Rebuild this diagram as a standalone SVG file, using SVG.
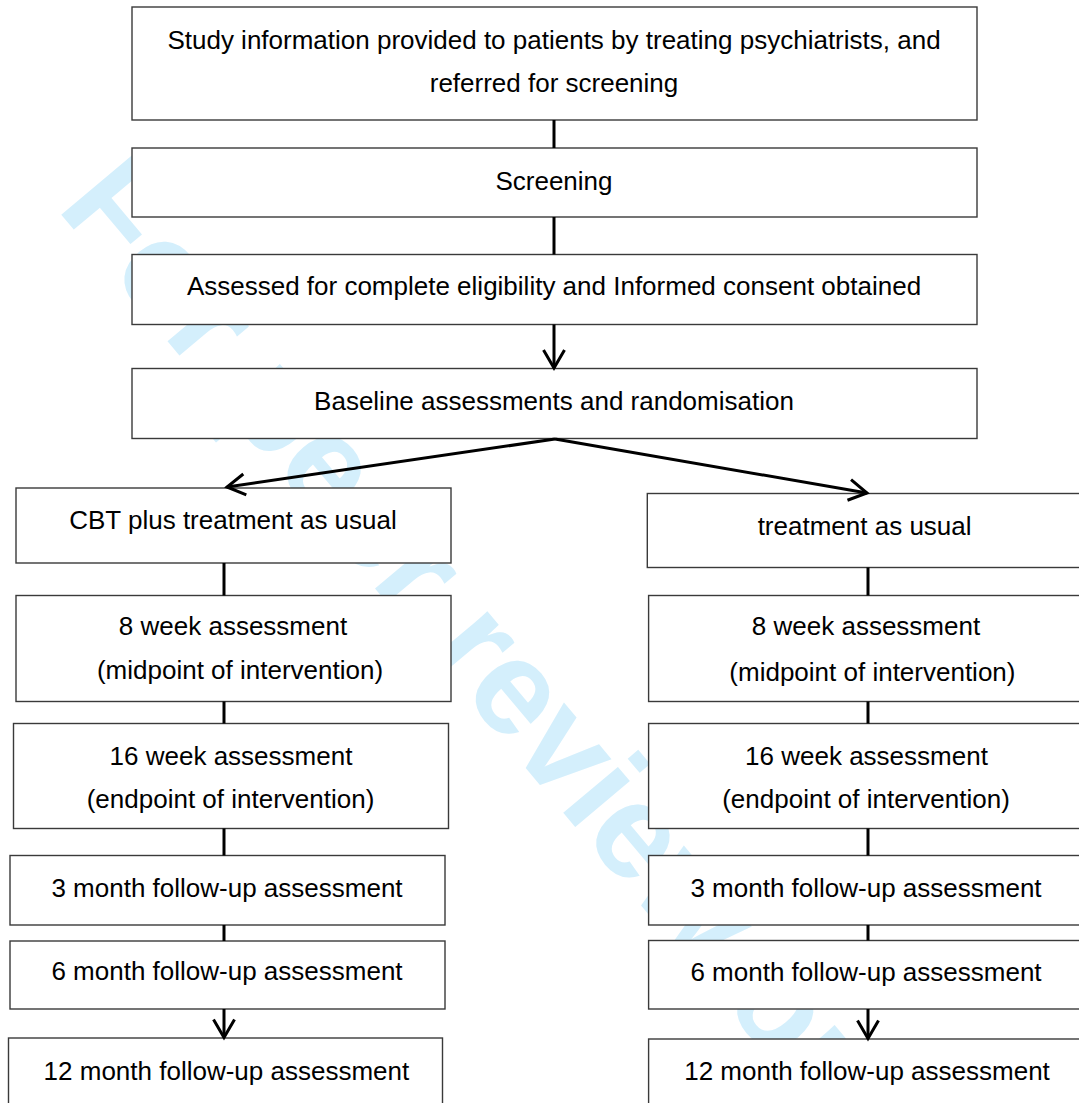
<svg xmlns="http://www.w3.org/2000/svg" width="1079" height="1103" viewBox="0 0 1079 1103">
<style>
.box{fill:#fff;stroke:#3a3a3a;stroke-width:1.4}
.t{font-family:"Liberation Sans",Arial,sans-serif;font-size:26px;fill:#000;text-anchor:middle}
.c{stroke:#000;stroke-width:3;fill:none}
.wm{font-family:"Liberation Sans",Arial,sans-serif;font-weight:bold;font-size:135px;fill:#d4effc}
</style>
<defs>
<marker id="arr" markerUnits="userSpaceOnUse" markerWidth="30" markerHeight="30" viewBox="-24 -15 30 30" refX="0" refY="0" orient="auto">
<path d="M-18,-10.5 L0,0 L-18,10.5" fill="none" stroke="#000" stroke-width="3"/>
</marker>
</defs>
<rect width="1079" height="1103" fill="#fff"/>
<text class="wm" transform="translate(55.6,207.7) rotate(50)">For peer review only</text>

<g id="n1"><rect class="box" x="132" y="7" width="845" height="113"/>
<text class="t" x="554" y="49">Study information provided to patients by treating psychiatrists, and</text>
<text class="t" x="554" y="92">referred for screening</text></g>
<g id="n2"><rect class="box" x="132" y="148" width="845" height="69"/>
<text class="t" x="554" y="190">Screening</text></g>
<g id="n3"><rect class="box" x="132" y="254.5" width="845" height="70"/>
<text class="t" x="554" y="295">Assessed for complete eligibility and Informed consent obtained</text></g>
<g id="n4"><rect class="box" x="132" y="368.5" width="845" height="70"/>
<text class="t" x="554" y="410">Baseline assessments and randomisation</text></g>

<g id="l1"><rect class="box" x="16" y="488" width="435" height="75"/>
<text class="t" x="233" y="529">CBT plus treatment as usual</text></g>
<g id="l2"><rect class="box" x="16" y="595.5" width="435" height="106"/>
<text class="t" x="233" y="635">8 week assessment</text>
<text class="t" x="240" y="679">(midpoint of intervention)</text></g>
<g id="l3"><rect class="box" x="13.5" y="723.5" width="435" height="105"/>
<text class="t" x="231" y="765">16 week assessment</text>
<text class="t" x="230.5" y="808">(endpoint of intervention)</text></g>
<g id="l4"><rect class="box" x="10" y="855.5" width="435" height="69.5"/>
<text class="t" x="227" y="897">3 month follow-up assessment</text></g>
<g id="l5"><rect class="box" x="10" y="941" width="435" height="68"/>
<text class="t" x="227" y="980">6 month follow-up assessment</text></g>
<g id="l6"><rect class="box" x="8.5" y="1038" width="434" height="100"/>
<text class="t" x="226.4" y="1080">12 month follow-up assessment</text></g>

<g id="r1"><rect class="box" x="647.3" y="493.5" width="437" height="74"/>
<text class="t" x="864.6" y="535">treatment as usual</text></g>
<g id="r2"><rect class="box" x="648.6" y="595.5" width="437" height="106"/>
<text class="t" x="866" y="635">8 week assessment</text>
<text class="t" x="872.4" y="681">(midpoint of intervention)</text></g>
<g id="r3"><rect class="box" x="648.6" y="723.5" width="437" height="105"/>
<text class="t" x="866.5" y="765">16 week assessment</text>
<text class="t" x="866" y="808">(endpoint of intervention)</text></g>
<g id="r4"><rect class="box" x="648.6" y="855.5" width="437" height="69.5"/>
<text class="t" x="866" y="897">3 month follow-up assessment</text></g>
<g id="r5"><rect class="box" x="648.6" y="940.5" width="437" height="68.5"/>
<text class="t" x="866" y="981">6 month follow-up assessment</text></g>
<g id="r6"><rect class="box" x="648.6" y="1039" width="437" height="100"/>
<text class="t" x="867" y="1080">12 month follow-up assessment</text></g>

<g id="connectors">
<line class="c" x1="554" y1="120" x2="554" y2="148"/>
<line class="c" x1="554" y1="217" x2="554" y2="254.5"/>
<line class="c" x1="554" y1="324.5" x2="554" y2="368" marker-end="url(#arr)"/>
<line class="c" x1="555" y1="439" x2="227" y2="487" marker-end="url(#arr)"/>
<line class="c" x1="555" y1="439" x2="867" y2="493" marker-end="url(#arr)"/>
<line class="c" x1="224" y1="563" x2="224" y2="595.5"/>
<line class="c" x1="224" y1="701.5" x2="224" y2="723.5"/>
<line class="c" x1="224" y1="828.5" x2="224" y2="855.5"/>
<line class="c" x1="224" y1="925" x2="224" y2="941"/>
<line class="c" x1="224" y1="1009" x2="224" y2="1037.5" marker-end="url(#arr)"/>
<line class="c" x1="868" y1="567.5" x2="868" y2="595.5"/>
<line class="c" x1="868" y1="701.5" x2="868" y2="723.5"/>
<line class="c" x1="868" y1="828.5" x2="868" y2="855.5"/>
<line class="c" x1="868" y1="925" x2="868" y2="940.5"/>
<line class="c" x1="868" y1="1009" x2="868" y2="1038.5" marker-end="url(#arr)"/>
</g>
</svg>
